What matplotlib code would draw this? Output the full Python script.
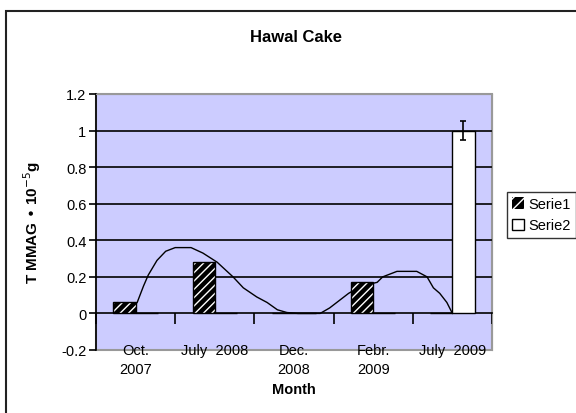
import matplotlib
matplotlib.use("Agg")
import matplotlib.pyplot as plt
from matplotlib.patches import Rectangle
import numpy as np

plt.rcParams['font.family'] = ['Liberation Sans', 'DejaVu Sans']

# ---- data ----
categories = ["Oct.\n2007", "July  2008", "Dec.\n2008", "Febr.\n2009", "July  2009"]
serie1 = [0.06, 0.28, 0.0, 0.17, 0.0]
serie2 = [0.0, 0.0, 0.0, 0.0, 1.0]
serie2_err = [0.0, 0.0, 0.0, 0.0, 0.05]
curve_x = [0.02, 0.10, 0.16, 0.27, 0.38, 0.50, 0.70, 0.85, 1.03, 1.23, 1.36,
           1.53, 1.66, 1.79, 1.91, 2.05, 2.33, 2.45, 2.54, 2.69, 2.85, 3.05,
           3.12, 3.30, 3.55, 3.68, 3.76, 3.84, 3.93, 4.00]
curve_y = [0.06, 0.15, 0.21, 0.29, 0.34, 0.36, 0.36, 0.33, 0.28, 0.20, 0.14,
           0.09, 0.06, 0.02, 0.005, 0.0, 0.0, 0.03, 0.06, 0.11, 0.15, 0.17,
           0.20, 0.23, 0.23, 0.20, 0.14, 0.11, 0.06, 0.0]
yticks = [-0.2, 0, 0.2, 0.4, 0.6, 0.8, 1, 1.2]
ytick_labels = ["-0.2", "0", "0.2", "0.4", "0.6", "0.8", "1", "1.2"]

W, H = 576, 414
fig = plt.figure(figsize=(W / 100, H / 100), dpi=100)
fig.patch.set_facecolor('white')

# outer chart-area border (clipped at right/bottom like the reference)
fig.patches.append(Rectangle((6 / W, -0.1), 1.2, 1 - 12 / H + 0.1,
                             transform=fig.transFigure, fill=False,
                             edgecolor='#222222', linewidth=1.5))

ax = fig.add_axes([96 / W, (H - 351) / H, 396 / W, 256 / H])
ax.set_facecolor('#CCCCFF')

x = np.arange(len(categories))
bw = 0.28

# gridlines
for yv in yticks[2:]:
    ax.axhline(yv, color='black', linewidth=1.2, zorder=1)

# trend curve
ax.plot(curve_x, curve_y, color='black', linewidth=1.0, zorder=2.5)

# Serie1 bars: black with white hatching
ax.bar(x - bw / 2, serie1, width=bw, color='black', edgecolor='white',
       hatch='////', linewidth=0, zorder=3)
ax.bar(x - bw / 2, serie1, width=bw, fill=False, edgecolor='black',
       linewidth=1.0, zorder=3.1)
# Serie2 bars: white
ax.bar(x + bw / 2, serie2, width=bw, color='white', edgecolor='black',
       linewidth=1.0, zorder=3)
err = np.array(serie2_err)
m = err > 0
ax.errorbar((x + bw / 2)[m], np.array(serie2)[m], yerr=err[m], fmt='none',
            ecolor='black', elinewidth=1.2, capsize=2.5, capthick=1.2, zorder=4)

# legend proxies
h1 = Rectangle((0, 0), 1, 1, facecolor='black', edgecolor='white', hatch='///', linewidth=0)
h2 = Rectangle((0, 0), 1, 1, facecolor='white', edgecolor='black', linewidth=1)
leg = fig.legend([h1, h2], ["Serie1", "Serie2"], loc='upper left',
                 bbox_to_anchor=(507 / W, 1 - 193 / H), frameon=True,
                 fancybox=False, edgecolor='black', fontsize=10.5,
                 handlelength=0.8, handleheight=0.8, handletextpad=0.3,
                 borderpad=0.35, labelspacing=0.5, borderaxespad=0)
leg.get_frame().set_linewidth(1.0)

# axes limits & ticks
ax.set_xlim(-0.5, len(categories) - 0.5)
ax.set_ylim(-0.2, 1.2)
ax.set_yticks(yticks)
ax.set_yticklabels(ytick_labels)
ax.tick_params(axis='y', direction='out', length=5, width=1.2, labelsize=10.5,
               pad=2, colors='black')

# category axis at y = 0
ax.spines['bottom'].set_position(('data', 0))
ax.spines['bottom'].set_color('black')
ax.spines['bottom'].set_linewidth(1.2)
ax.spines['left'].set_linewidth(1.2)
ax.spines['top'].set_color('#999999')
ax.spines['right'].set_color('#999999')
ax.add_patch(Rectangle((0, 0), 1, 1, transform=ax.transAxes, fill=False,
                       edgecolor='#999999', linewidth=1.5, zorder=0.5,
                       clip_on=False))
ax.set_xticks(x)
ax.set_xticklabels(categories, fontsize=10.5, linespacing=1.45)
ax.set_xticks(np.arange(len(categories) + 1) - 0.5, minor=True)
ax.tick_params(axis='x', which='major', length=0, pad=21)
ax.tick_params(axis='x', which='minor', direction='out', length=8, width=1.2)

ax.set_xlabel("Month", fontsize=10.5, fontweight='bold')
ax.xaxis.set_label_coords(0.5, -0.125)
ax.set_ylabel("T MMAG \u2022 10$^{-5}$g", fontsize=11, fontweight='bold')
ax.yaxis.set_label_coords(-0.135, 0.5)

fig.text(296 / W, 1 - 38 / H, "Hawal Cake", ha='center', va='center',
         fontsize=12, fontweight='bold')

fig.savefig("out.png", dpi=100)
